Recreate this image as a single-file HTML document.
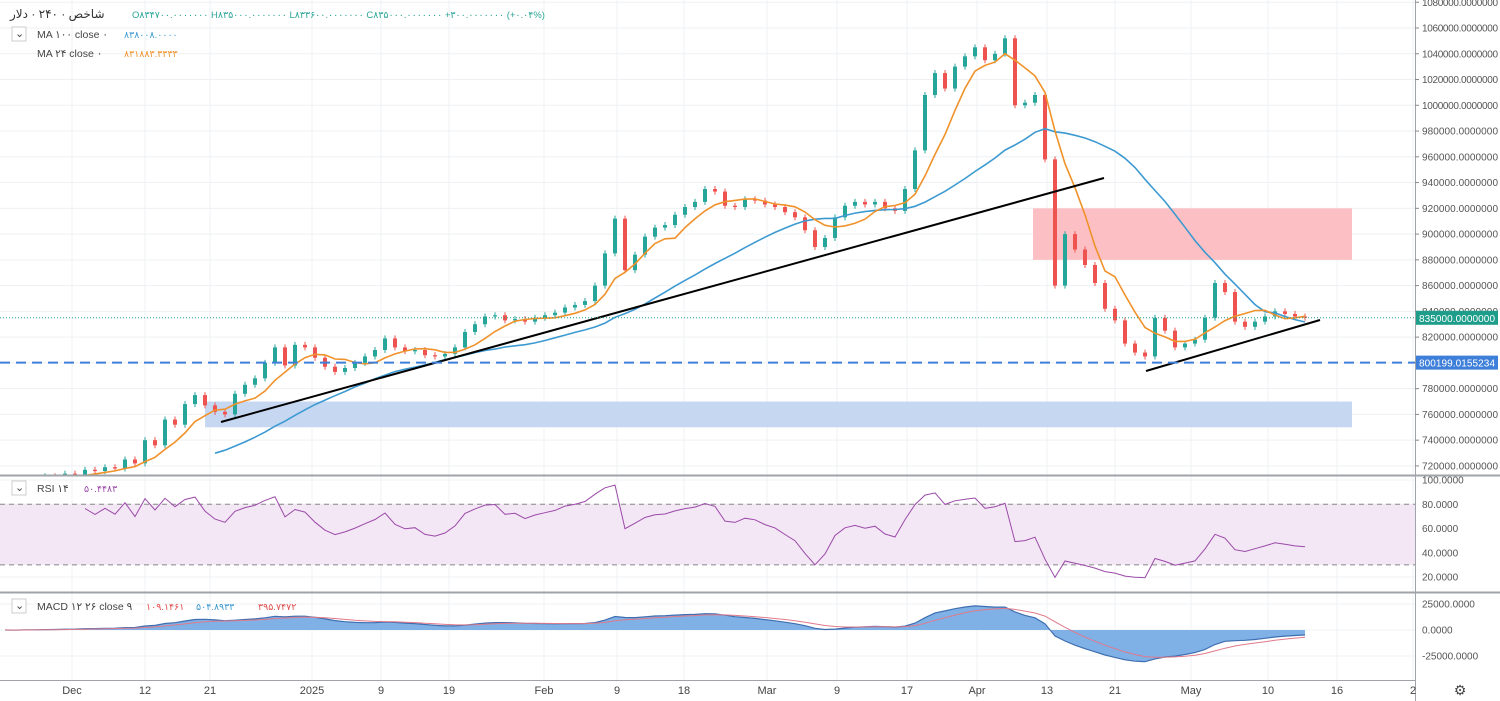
<!DOCTYPE html>
<html><head><meta charset="utf-8">
<style>
html,body{margin:0;padding:0;background:#fff;width:1500px;height:701px;overflow:hidden;font-family:"Liberation Sans","Noto Sans CJK SC",sans-serif;}
svg{display:block}
text{font-family:"Liberation Sans","DejaVu Sans",sans-serif}
</style></head>
<body>
<svg id="chart" width="1500" height="701" viewBox="0 0 1500 701" xmlns="http://www.w3.org/2000/svg"></svg>
<script>
// ---- data ----
const closes = [708,707,710,709,712,711,714,713,717,716,719,718,725,722,740,736,756,752,768,775,
767,762,760,776,783,788,800,812,798,814,812,804,797,793,796,800,805,810,819,812,
809,810,806,805,807,812,824,830,836,837,833,834,832,835,837,839,843,845,848,860,
885,912,872,884,898,905,907,915,921,925,935,933,922,921,927,926,923,921,917,913,
903,890,897,913,922,925,923,925,920,918,935,965,1008,1025,1013,1030,1038,1045,1035,1040,
1052,1000,1002,1008,958,860,900,888,876,862,842,833,815,808,805,835,825,812,815,818,
835,862,855,832,828,832,836,840,838,836,835];
const priceTicks = [1080000,1060000,1040000,1020000,1000000,980000,960000,940000,920000,900000,880000,860000,840000,820000,800000,780000,760000,740000,720000];
const rsiTicks = [100,80,60,40,20];
const macdTicks = [25000,0,-25000];
const xLabels = ["Dec","12","21","2025","9","19","Feb","9","18","Mar","9","17","Apr","13","21","May","10","16","2"];
const xLabelBars = [6.7,14,20.5,30.7,37.6,44.4,53.9,61.2,67.9,76.2,83.2,90.2,97.2,104.2,111,118.6,126.3,133.2,140.8];
const supportLevel = 800199.0155234;
const lastPrice = 835000;

// ---- scales ----
const X0 = 5, STEP = 10, RIGHT = 1415;
const xb = i => X0 + i*STEP;
const yP = p => 28 + (1060000 - p)/20000*25.76;
const yR = v => 480 + (100 - v)/20*24.25;
const yM = v => 630 - v/25000*26;

const svg = document.getElementById('chart');
const NS = 'http://www.w3.org/2000/svg';
function mk(tag, attrs, parent){const e=document.createElementNS(NS,tag);for(const k in attrs)e.setAttribute(k,attrs[k]);(parent||svg).appendChild(e);return e;}
function txt(s,x,y,attrs,parent){const t=mk('text',Object.assign({x:x,y:y},attrs),parent);t.textContent=s;return t;}

const defs = mk('defs',{});
const c1 = mk('clipPath',{id:'cp'},defs); mk('rect',{x:0,y:0,width:RIGHT,height:475},c1);
const c2 = mk('clipPath',{id:'cr'},defs); mk('rect',{x:0,y:476,width:RIGHT,height:116},c2);
const c3 = mk('clipPath',{id:'cm'},defs); mk('rect',{x:0,y:593,width:RIGHT,height:87},c3);

// grid
const grid = mk('g',{stroke:'#eef0f3','stroke-width':1});


xLabelBars.forEach(b=>{mk('line',{x1:xb(b),x2:xb(b),y1:0,y2:680},grid);});
priceTicks.forEach(p=>{mk('line',{x1:0,x2:RIGHT,y1:yP(p),y2:yP(p)},grid);});
rsiTicks.forEach(v=>{mk('line',{x1:0,x2:RIGHT,y1:yR(v),y2:yR(v)},grid);});
macdTicks.forEach(v=>{mk('line',{x1:0,x2:RIGHT,y1:yM(v),y2:yM(v)},grid);});

// zones
const zr = mk('rect',{x:1033,y:yP(920000),width:319,height:yP(880000)-yP(920000),fill:'#fcc0c4'});


const zb = mk('rect',{x:205,y:yP(770000),width:1147,height:yP(750000)-yP(770000),fill:'#c6d7f2'});



// candles
const cg = mk('g',{'clip-path':'url(#cp)'});


closes.forEach((c,i)=>{
  const o = i>0 ? closes[i-1] : c-1;
  const up = c>=o;
  const col = up ? '#26a69a' : '#ef5350';
  const y1 = yP(Math.max(o,c)*1000), y2 = yP(Math.min(o,c)*1000);
  mk('line',{x1:xb(i),x2:xb(i),y1:y1-3,y2:y2+3,stroke:col,'stroke-width':1},cg);
  const b = mk('rect',{x:xb(i)-2,y:y1,width:4,height:Math.max(1,y2-y1),fill:col},cg);
  
  
});

// moving averages
function sma(n){return closes.map((c,i)=> i<n-1?null: closes.slice(i-n+1,i+1).reduce((a,b)=>a+b,0)/n);}
function linePath(vals, yf){let d='';vals.forEach((v,i)=>{if(v==null)return;d+=(d?'L':'M')+xb(i).toFixed(1)+' '+yf(v).toFixed(1);});return d;}
const ma100 = sma(22), ma24 = sma(6);
const m1 = mk('path',{d:linePath(ma100,v=>yP(v*1000)),fill:'none',stroke:'#3d9ad1','stroke-width':1.6,'clip-path':'url(#cp)'});


const m2 = mk('path',{d:linePath(ma24,v=>yP(v*1000)),fill:'none',stroke:'#f0922b','stroke-width':1.6,'clip-path':'url(#cp)'});



// trend lines
const t1 = mk('line',{x1:221,y1:422,x2:1104,y2:178,stroke:'#000','stroke-width':2});


const t2 = mk('line',{x1:1146,y1:371,x2:1320,y2:320,stroke:'#000','stroke-width':2});



// horizontal lines
const hs = mk('line',{x1:0,x2:RIGHT,y1:yP(supportLevel),y2:yP(supportLevel),stroke:'#3d7fd9','stroke-width':2,'stroke-dasharray':'10 6'});


const hl = mk('line',{x1:0,x2:RIGHT,y1:yP(lastPrice),y2:yP(lastPrice),stroke:'#1e9e8a','stroke-width':1,'stroke-dasharray':'1 2'});



// RSI
function rsiCalc(n){const out=[null];let ag=0,al=0;for(let i=1;i<closes.length;i++){const d=closes[i]-closes[i-1];const g=Math.max(d,0),l=Math.max(-d,0);if(i<=n){ag+=g/n;al+=l/n;if(i<n){out[i]=null;continue;}}else{ag=(ag*(n-1)+g)/n;al=(al*(n-1)+l)/n;}out[i]=al===0?100:100-100/(1+ag/al);}return out;}
const rsi = rsiCalc(8);
const rb = mk('rect',{x:0,y:yR(80),width:RIGHT,height:yR(30)-yR(80),fill:'#f3e6f5'});


[80,30].forEach(v=>{const l=mk('line',{x1:0,x2:RIGHT,y1:yR(v),y2:yR(v),stroke:'#888','stroke-width':1,'stroke-dasharray':'5 4'});

});
const rl = mk('path',{d:linePath(rsi,yR),fill:'none',stroke:'#9b4aa8','stroke-width':1,'clip-path':'url(#cr)'});



// MACD
function ema(arr,n){const k=2/(n+1);const o=[];arr.forEach((v,i)=>{o[i]=i===0?v:v*k+o[i-1]*(1-k);});return o;}
const e12=ema(closes,8), e26=ema(closes,17);
const macd = closes.map((c,i)=>(e12[i]-e26[i])*1000*0.7);
const sig = ema(macd,6);
let ad = 'M'+xb(0)+' '+yM(0);
macd.forEach((v,i)=>{ad+='L'+xb(i).toFixed(1)+' '+yM(v).toFixed(1);});
ad += 'L'+xb(macd.length-1)+' '+yM(0)+'Z';
const ma = mk('path',{d:ad,fill:'#7fb0e6','clip-path':'url(#cm)'});


const ml = mk('path',{d:linePath(macd,yM),fill:'none',stroke:'#3f6fb0','stroke-width':1.2,'clip-path':'url(#cm)'});


const sl = mk('path',{d:linePath(sig,yM),fill:'none',stroke:'#e07a8a','stroke-width':1,'clip-path':'url(#cm)'});



// pane separators
[[0,475.5,1500,475.5,2],[0,592.5,1500,592.5,2],[0,680.5,RIGHT,680.5,1],[RIGHT+0.5,0,RIGHT+0.5,701,1]].forEach(a=>{
  const l=mk('line',{x1:a[0],y1:a[1],x2:a[2],y2:a[3],stroke:'#a0a3a8','stroke-width':a[4]});
  
  
});

// axis labels
const ax = mk('g',{'font-size':'10',fill:'#555'});


priceTicks.forEach(p=>{const y=yP(p);if(y<0)return;mk('line',{x1:RIGHT,x2:RIGHT+4,y1:y,y2:y,stroke:'#888'},ax);
const t=txt(p.toFixed(7),RIGHT+7,y+3.5,{textLength:76},ax);

});
rsiTicks.forEach(v=>{const t=txt(v.toFixed(4),RIGHT+7,yR(v)+3.5,{},ax);

});
macdTicks.forEach(v=>{const t=txt(v.toFixed(4),RIGHT+7,yM(v)+3.5,{},ax);

});
function tag(val,label,col,name){const y=yP(val);const g=mk('g',{});


mk('rect',{x:RIGHT+1,y:y-7,width:82,height:14,fill:col},g);txt(label,RIGHT+4,y+4,{fill:'#fff','font-size':'10',textLength:76},g);}
tag(lastPrice,'835000.0000000','#1e9e8a','last-price-tag');
tag(supportLevel,'800199.0155234','#3d7fd9','support-price-tag');

const xa = mk('g',{'font-size':'11',fill:'#444','text-anchor':'middle'});


xLabels.forEach((s,i)=>{const t=txt(s,xb(xLabelBars[i]),694,{},xa);

});
const gear = txt('⚙',1460,695,{'font-size':'14',fill:'#444','text-anchor':'middle'});



// legends
const lg = mk('g',{'font-size':'10.5'});


const hdr = txt('شاخص · ۲۴۰ · دلار',10,18,{fill:'#333','font-size':'12','font-family':'DejaVu Sans, sans-serif'},lg);


const ohlc = txt('O۸۳۴۷۰۰.۰۰۰۰۰۰۰     H۸۳۵۰۰۰.۰۰۰۰۰۰۰     L۸۳۳۶۰۰.۰۰۰۰۰۰۰     C۸۳۵۰۰۰.۰۰۰۰۰۰۰     +۳۰۰.۰۰۰۰۰۰۰ (+۰.۰۴%)',132,18,{fill:'#2aa596','xml:space':'preserve','font-family':'DejaVu Sans, sans-serif','font-size':'9.5'},lg);


function legRow(y,label,val,col,name){const g=mk('g',{},lg);


txt(label,37,y,{fill:'#444'},g);txt(val,124,y,{fill:col,'font-family':'DejaVu Sans, sans-serif','font-size':'9.5'},g);}
const cb = mk('rect',{x:12,y:27,width:14,height:14,fill:'#fff',stroke:'#ccc'},lg);


txt('⌄',15,37,{fill:'#444','font-size':'11'},lg);
legRow(38,'MA ۱۰۰ close ۰','۸۳۸۰۰۸.۰۰۰۰','#3d9ad1','legend-ma-100');
legRow(57,'MA ۲۴ close ۰','۸۳۱۸۸۳.۳۳۳۳','#f0922b','legend-ma-24');
mk('rect',{x:12,y:481,width:14,height:14,fill:'#fff',stroke:'#ccc'},lg);
txt('⌄',15,491,{fill:'#444','font-size':'11'},lg);
const rg = mk('g',{},lg);


txt('RSI ۱۴',37,492,{fill:'#444'},rg);txt('۵۰.۴۴۸۳',84,492,{fill:'#9b4aa8','font-family':'DejaVu Sans, sans-serif','font-size':'9.5'},rg);
mk('rect',{x:12,y:599,width:14,height:14,fill:'#fff',stroke:'#ccc'},lg);
txt('⌄',15,609,{fill:'#444','font-size':'11'},lg);
const mg = mk('g',{},lg);


txt('MACD ۱۲ ۲۶ close ۹',37,610,{fill:'#444'},mg);
txt('۱۰۹.۱۴۶۱',146,610,{fill:'#e0504f','font-family':'DejaVu Sans, sans-serif','font-size':'9.5'},mg);
txt('۵۰۴.۸۹۳۳',196,610,{fill:'#3d9ad1','font-family':'DejaVu Sans, sans-serif','font-size':'9.5'},mg);
txt('۳۹۵.۷۴۷۲',258,610,{fill:'#e0504f','font-family':'DejaVu Sans, sans-serif','font-size':'9.5'},mg);
</script>
</body></html>
